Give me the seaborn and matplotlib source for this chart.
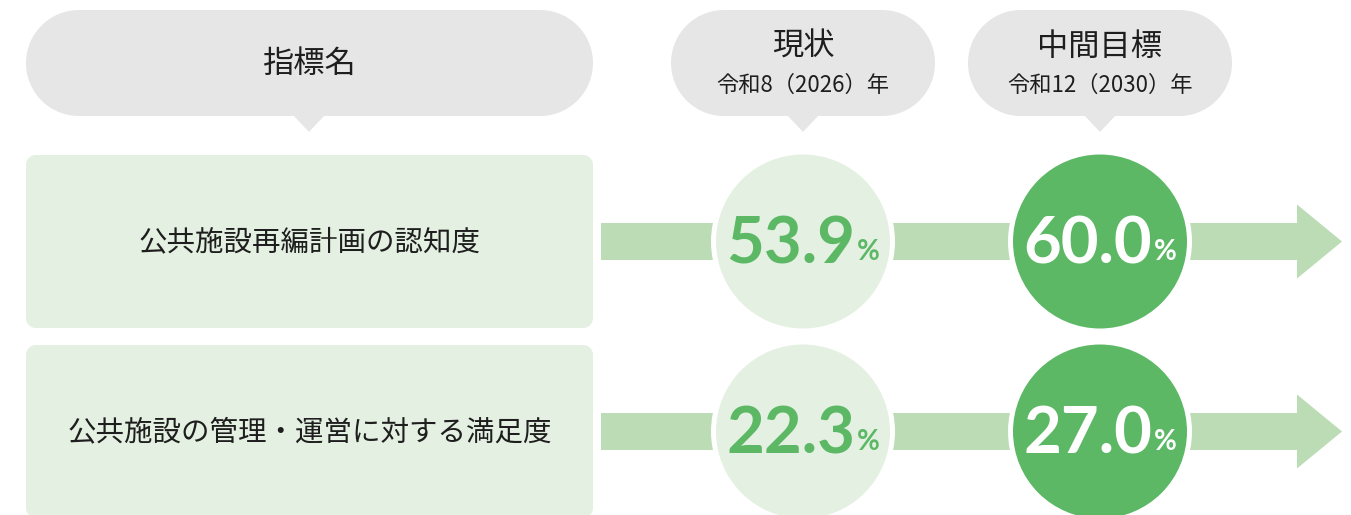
import matplotlib
matplotlib.use("Agg")
import matplotlib.pyplot as plt
from matplotlib.patches import FancyBboxPatch, Polygon, Rectangle
import seaborn as sns
import pandas as pd
import numpy as np

# ---- data ----
header_title = "指標名"
stage_titles = ["現状", "中間目標"]
stage_years = ["令和8（2026）年", "令和12（2030）年"]
indicators = ["公共施設再編計画の認知度", "公共施設の管理・運営に対する満足度"]
current_values = [53.9, 22.3]
target_values = [60.0, 27.0]

# ---- style ----
sns.set_theme(style="white")
plt.rcParams['font.family'] = ['Noto Sans CJK JP', 'DejaVu Sans']

GRAY = "#e6e6e6"
LIGHT = "#e4f0e1"
BAND = "#bbdcb5"
GREEN = "#5cb865"
TEXT = "#1e1e1e"

W, H = 1351, 515
fig = plt.figure(figsize=(W / 100, H / 100), dpi=100)
ax = fig.add_axes([0, 0, 1, 1])
ax.set_xlim(0, W)
ax.set_ylim(H, 0)
ax.axis("off")

col_x = [803, 1100]
row_y = [241.5, 431.5]
box_x0, box_x1 = 26, 593
box_h = 173


def rounded_rect(x0, x1, y0, y1, r, **kw):
    r = min(r, (x1 - x0) / 2, (y1 - y0) / 2)
    pts = []
    corners = [(x1 - r, y0 + r, -90, 0), (x1 - r, y1 - r, 0, 90),
               (x0 + r, y1 - r, 90, 180), (x0 + r, y0 + r, 180, 270)]
    for cx, cy, a0, a1 in corners:
        t = np.radians(np.linspace(a0, a1, 40))
        pts.extend(zip(cx + r * np.cos(t), cy + r * np.sin(t)))
    ax.add_patch(Polygon(pts, closed=True, ec="none", **kw))


# ---- header pills ----
def pill(x0, x1, y0, y1, tip_x):
    h = y1 - y0
    rounded_rect(x0, x1, y0, y1, h / 2, fc=GRAY, zorder=1)
    ax.add_patch(Polygon([(tip_x - 16, y1 - 1), (tip_x + 16, y1 - 1), (tip_x, y1 + 16)],
                         closed=True, fc=GRAY, ec="none", zorder=1))


pill(box_x0, box_x1, 10, 116, 309)
ax.text(309, 64, header_title, ha="center", va="center", fontsize=22.5, color=TEXT, zorder=3)

for i, cx in enumerate(col_x):
    pill(cx - 132, cx + 132, 10, 116, cx)
    ax.text(cx, 47, stage_titles[i], ha="center", va="center", fontsize=22.5, color=TEXT, zorder=3)
    ax.text(cx, 85, stage_years[i], ha="center", va="center", fontsize=16, color=TEXT, zorder=3)

# ---- rows: label boxes and arrows ----
for r, cy in enumerate(row_y):
    y0 = cy - box_h / 2
    rounded_rect(box_x0, box_x1, y0, y0 + box_h, 10, fc=LIGHT, zorder=1)
    ax.text((box_x0 + box_x1) / 2, cy + 1, indicators[r], ha="center", va="center",
            fontsize=20.5, color=TEXT, zorder=3)
    # arrow band
    ax.add_patch(Rectangle((601, cy - 18.5), 1297 - 601, 37, fc=BAND, ec="none", zorder=1))
    ax.add_patch(Polygon([(1297, cy - 37), (1342, cy), (1297, cy + 37)],
                         closed=True, fc=BAND, ec="none", zorder=1))

# ---- circles via seaborn ----
df = pd.DataFrame({
    "x": [col_x[0]] * len(indicators) + [col_x[1]] * len(indicators),
    "y": row_y + row_y,
    "stage": ["current"] * len(indicators) + ["target"] * len(indicators),
    "value": current_values + target_values,
})
diam_px = 2 * (87 + 2.5)
diam_pt = diam_px * 72 / 100
sns.scatterplot(data=df, x="x", y="y", hue="stage",
                palette={"current": LIGHT, "target": GREEN},
                s=diam_pt ** 2, edgecolor="white", linewidth=5 * 72 / 100,
                legend=False, ax=ax, zorder=2)
ax.set_xlim(0, W)
ax.set_ylim(H, 0)
ax.axis("off")

# ---- value labels ----
fig.canvas.draw()
renderer = fig.canvas.get_renderer()
for _, row in df.iterrows():
    col = GREEN if row["stage"] == "current" else "white"
    base = row["y"] + 22
    t1 = ax.text(0, base, f"{row['value']:.1f}", ha="left", va="baseline",
                 fontsize=47, fontweight="bold", family="Lato", color=col, zorder=4)
    t2 = ax.text(0, base - 4, "%", ha="left", va="baseline",
                 fontsize=20, fontweight="bold", family="Lato", color=col, zorder=4)
    w1 = t1.get_window_extent(renderer).width
    w2 = t2.get_window_extent(renderer).width
    gap = 2
    start = row["x"] - (w1 + gap + w2) / 2
    t1.set_x(start)
    t2.set_x(start + w1 + gap)

fig.savefig("out.png", dpi=100)
